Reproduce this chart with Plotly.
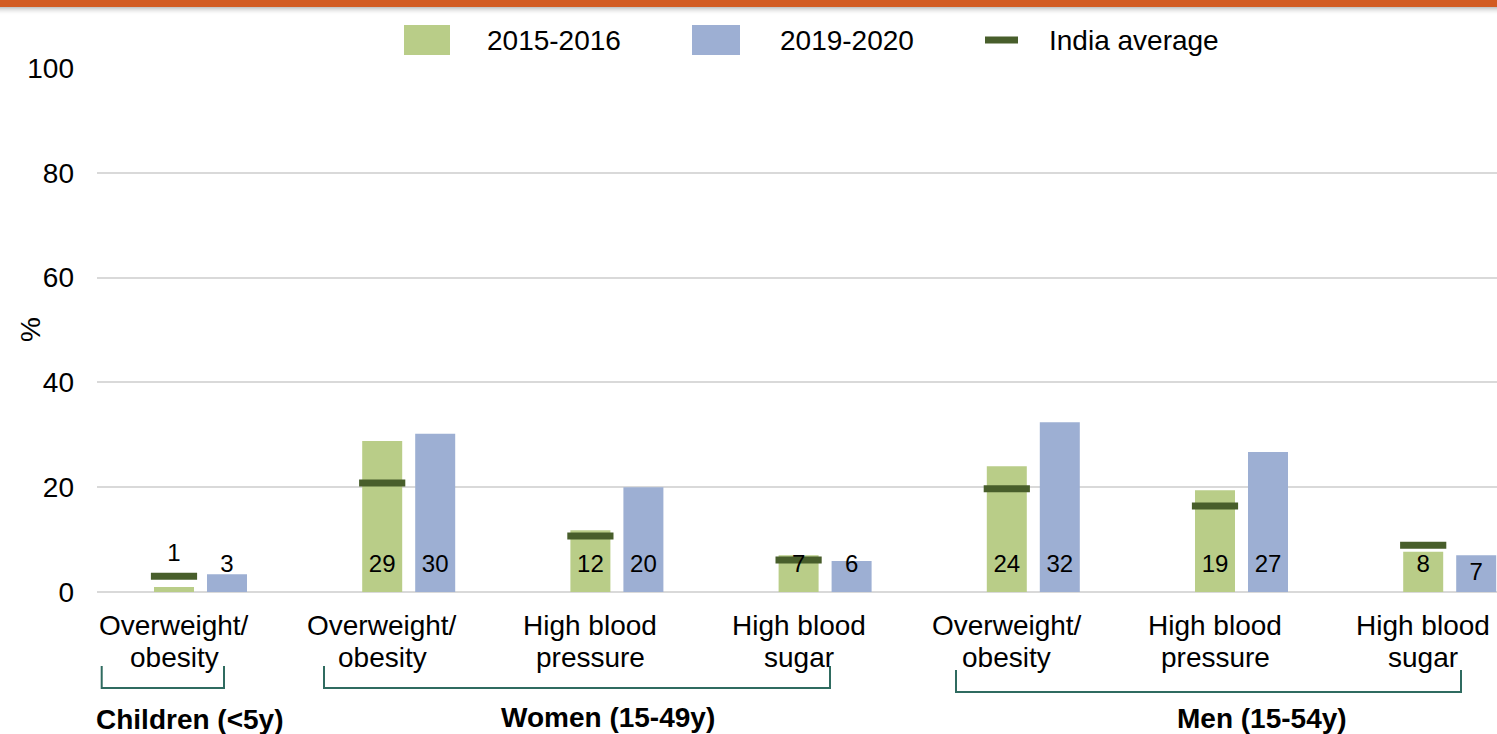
import plotly.graph_objects as go

# ---------------- data ----------------
categories = ["Overweight/<br>obesity", "Overweight/<br>obesity", "High blood<br>pressure",
              "High blood<br>sugar", "Overweight/<br>obesity", "High blood<br>pressure",
              "High blood<br>sugar"]
groups = ["Children (<5y)", "Women (15-49y)", "Men (15-54y)"]
series_names = ["2015-2016", "2019-2020", "India average"]
values_2015 = [0.95, 28.8, 11.8, 7.0, 24.0, 19.4, 7.7]
values_2019 = [3.4, 30.2, 20.0, 5.9, 32.4, 26.7, 7.0]
india_avg = [3.0, 20.8, 10.7, 6.1, 19.7, 16.4, 8.9]
y_ticks = [0, 20, 40, 60, 80, 100]
y_title = "%"

# ---------------- style ----------------
GREEN = "#b9cd88"
BLUE = "#9dafd3"
DARK = "#485e2b"
GRID = "#d9d9d9"
BRACKET = "#2f6b60"
FONT = "Liberation Sans, Arial, sans-serif"
W, H = 1497, 734
L, T, B = 97, 68, 142
PW, PH = W - L, H - T - B
STEP = 208.2           # px per category
FIRST = 174            # px of first category centre
x0 = -(FIRST - L) / STEP
x1 = x0 + PW / STEP
BAR_W = 40 / STEP
OFF = 53 / STEP


def pxx(px):
    return (px - L) / PW


def pxy(py):
    return (H - B - py) / PH


idx = list(range(len(categories)))
fig = go.Figure()
fig.add_trace(go.Bar(x=idx, y=values_2015, width=BAR_W, marker_color=GREEN,
                     name=series_names[0], marker_line_width=0))
fig.add_trace(go.Bar(x=[i + OFF for i in idx], y=values_2019, width=BAR_W, marker_color=BLUE,
                     name=series_names[1], marker_line_width=0))
fig.add_trace(go.Scatter(x=idx, y=india_avg, mode="markers", name=series_names[2],
                         marker=dict(symbol="line-ew", size=33, color=DARK,
                                     line=dict(width=7, color=DARK))))

# data labels
lab_y_g = [a + 4 if v < 2 else 5 for v, a in zip(values_2015, india_avg)]
lab_y_b = [v / 2 if v < 7.5 and v > 6.5 else 5 for v in values_2019]
fig.add_trace(go.Scatter(x=idx, y=lab_y_g, mode="text",
                         text=[str(int(round(v))) for v in values_2015],
                         textfont=dict(size=24, color="black", family=FONT),
                         textposition="middle center", hoverinfo="skip"))
fig.add_trace(go.Scatter(x=[i + OFF for i in idx], y=lab_y_b, mode="text",
                         text=[str(int(round(v))) for v in values_2019],
                         textfont=dict(size=24, color="black", family=FONT),
                         textposition="middle center", hoverinfo="skip"))

annotations = []
shapes = []

# category labels (two lines each)
for i, c in enumerate(categories):
    for j, line in enumerate(c.split("<br>")):
        annotations.append(dict(x=i, y=pxy(625 + 32 * j), xref="x", yref="paper",
                                text=line, showarrow=False, xanchor="center", yanchor="middle",
                                font=dict(size=28, color="black", family=FONT)))

# group brackets and labels
bracket_px = [(101.7, 224, 666, 688), (324, 830, 666, 688), (956, 1461, 670, 692)]
label_px = [(189, 719), (608, 717), (1262, 718)]
for g, (bx0, bx1, by0, by1), (lx, ly) in zip(groups, bracket_px, label_px):
    xa, xb = pxx(bx0), pxx(bx1)
    ya, yb = pxy(by0), pxy(by1)
    shapes.append(dict(type="path", xref="paper", yref="paper",
                       path=f"M {xa},{ya} L {xa},{yb} L {xb},{yb} L {xb},{ya}",
                       line=dict(color=BRACKET, width=2)))
    annotations.append(dict(x=pxx(lx), y=pxy(ly), xref="paper", yref="paper", text=f"<b>{g}</b>",
                            showarrow=False, xanchor="center", yanchor="middle",
                            font=dict(size=28, color="black", family=FONT)))

# y title
annotations.append(dict(x=pxx(30), y=50, xref="paper", yref="y", text=y_title, textangle=-90,
                        showarrow=False, xanchor="center", yanchor="middle",
                        font=dict(size=28, color="black", family=FONT)))

# top orange strip + shadow
shapes.append(dict(type="rect", xref="paper", yref="paper", x0=pxx(0), x1=pxx(W),
                   y0=pxy(7), y1=pxy(0), fillcolor="#d25b22", line_width=0))
for k in range(8):
    shapes.append(dict(type="rect", xref="paper", yref="paper", x0=pxx(0), x1=pxx(W),
                       y0=pxy(8 + k), y1=pxy(7 + k), fillcolor="gray",
                       opacity=0.45 * (1 - k / 8) ** 2, line_width=0))

# manual legend
legend_items = [
    ("rect", GREEN, 404, 450, 25, 55, 485),
    ("rect", BLUE, 692, 740, 25, 55, 778),
    ("rect", DARK, 985, 1018, 36.5, 43.5, 1047),
]
for (kind, col, lx0, lx1, ly0, ly1, tx), name in zip(legend_items, series_names):
    shapes.append(dict(type="rect", xref="paper", yref="paper", x0=pxx(lx0), x1=pxx(lx1),
                       y0=pxy(ly1), y1=pxy(ly0), fillcolor=col, line_width=0))
    annotations.append(dict(x=pxx(tx), y=pxy(40), xref="paper", yref="paper", text=name,
                            showarrow=False, xanchor="left", yanchor="middle",
                            font=dict(size=28, color="black", family=FONT)))

fig.update_layout(
    width=W, height=H,
    margin=dict(l=L, r=0, t=T, b=B, autoexpand=False),
    paper_bgcolor="white", plot_bgcolor="white",
    showlegend=False, barmode="overlay",
    font=dict(family=FONT, size=28, color="black"),
    xaxis=dict(range=[x0, x1], showgrid=False, zeroline=False, showline=False,
               showticklabels=False, ticks=""),
    yaxis=dict(range=[0, 100], tickvals=y_ticks, showgrid=True, gridcolor=GRID, gridwidth=2,
               zeroline=True, zerolinecolor=GRID, zerolinewidth=2, showline=False,
               ticks="", ticklabelstandoff=22, tickfont=dict(size=28, color="black", family=FONT)),
    annotations=annotations, shapes=shapes,
)

fig.write_html("out.html", config={"displayModeBar": False},
               post_script="document.body.style.margin='0';document.body.style.overflow='hidden';")
